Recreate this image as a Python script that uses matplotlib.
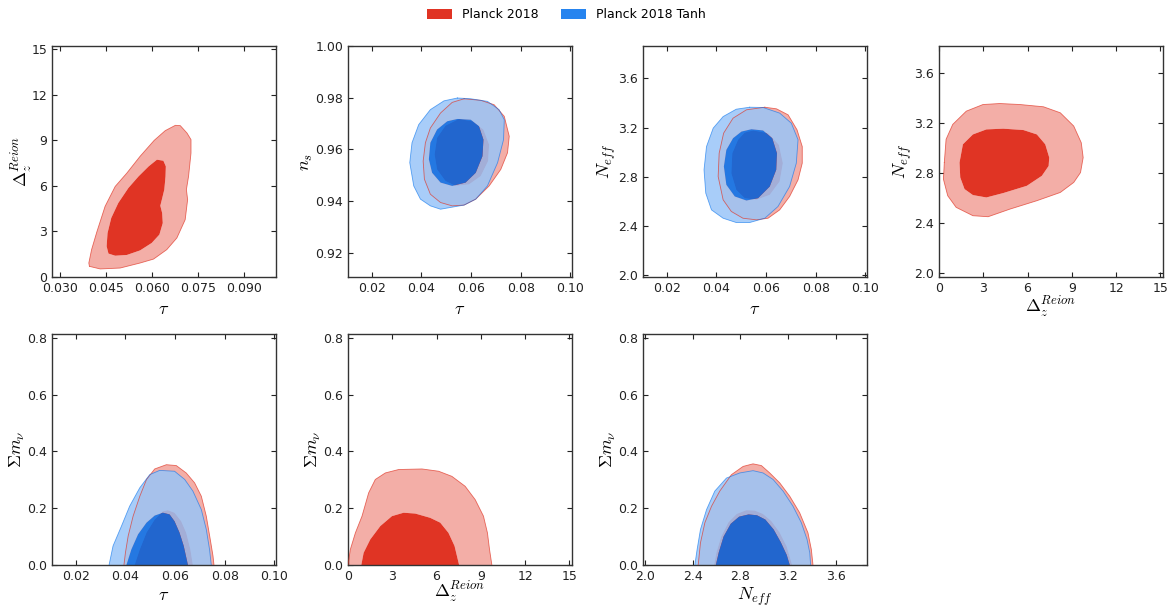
"""Reionisation-model triangle panels: Planck 2018 vs Planck 2018 Tanh (68/95% contours)."""
import matplotlib
matplotlib.use("Agg")
import matplotlib.pyplot as plt
import numpy as np
from matplotlib.patches import PathPatch, Patch
from matplotlib.path import Path

plt.rcParams["mathtext.fontset"] = "cm"
plt.rcParams["font.family"] = ["DejaVu Sans"]

# ── contour outlines, (x, y) in data units ──────────────────────────────────
# panel 1: tau vs Delta_z  (Planck 2018 only)
tau_dz_red_95 = [(0.0395, 0.70), (0.0430, 0.53), (0.0495, 0.59), (0.0560, 0.92), (0.0604, 1.18),
                 (0.0647, 1.80), (0.0680, 2.57), (0.0707, 3.77), (0.0715, 5.09), (0.0711, 5.75),
                 (0.0718, 6.62), (0.0726, 8.16), (0.0726, 9.04), (0.0713, 9.47), (0.0691, 9.96),
                 (0.0675, 9.98), (0.0642, 9.63), (0.0606, 8.99), (0.0560, 7.94), (0.0517, 6.84),
                 (0.0479, 5.96), (0.0446, 4.65), (0.0419, 2.96), (0.0402, 1.80), (0.0393, 0.92)]
tau_dz_red_68 = [(0.0636, 7.65), (0.0615, 7.72), (0.0588, 7.28), (0.0555, 6.62), (0.0522, 5.86),
                 (0.0489, 4.87), (0.0466, 3.88), (0.0454, 2.89), (0.0451, 2.02), (0.0457, 1.54),
                 (0.0479, 1.40), (0.0517, 1.45), (0.0560, 1.75), (0.0598, 2.24), (0.0623, 2.79),
                 (0.0634, 3.55), (0.0632, 4.21), (0.0626, 4.69), (0.0631, 5.09), (0.0639, 5.75),
                 (0.0643, 6.62), (0.0644, 7.28)]

# panel 2: tau vs n_s
tau_ns_red_95 = [(0.0572, 0.9796), (0.0639, 0.9790), (0.0693, 0.9773), (0.0734, 0.9728),
                 (0.0754, 0.9651), (0.0747, 0.9587), (0.0720, 0.9523), (0.0673, 0.9459),
                 (0.0619, 0.9408), (0.0572, 0.9385), (0.0524, 0.9382), (0.0477, 0.9395),
                 (0.0436, 0.9427), (0.0412, 0.9485), (0.0407, 0.9555), (0.0416, 0.9626),
                 (0.0436, 0.9683), (0.0477, 0.9741), (0.0524, 0.9782)]
tau_ns_red_68 = [(0.0551, 0.9718), (0.0605, 0.9709), (0.0650, 0.9677), (0.0673, 0.9619),
                 (0.0669, 0.9555), (0.0639, 0.9497), (0.0592, 0.9465), (0.0538, 0.9459),
                 (0.0497, 0.9478), (0.0463, 0.9523), (0.0453, 0.9581), (0.0463, 0.9645),
                 (0.0497, 0.9692)]
tau_ns_tanh_95 = [(0.0545, 0.9799), (0.0599, 0.9796), (0.0666, 0.9786), (0.0713, 0.9754),
                  (0.0734, 0.9715), (0.0731, 0.9638), (0.0707, 0.9549), (0.0666, 0.9459),
                  (0.0619, 0.9408), (0.0572, 0.9385), (0.0518, 0.9376), (0.0477, 0.9369),
                  (0.0436, 0.9382), (0.0396, 0.9408), (0.0369, 0.9459), (0.0353, 0.9549),
                  (0.0362, 0.9626), (0.0389, 0.9696), (0.0436, 0.9754), (0.0491, 0.9788)]
tau_ns_tanh_68 = [(0.0545, 0.9718), (0.0599, 0.9715), (0.0632, 0.9690), (0.0650, 0.9638),
                  (0.0646, 0.9574), (0.0619, 0.9510), (0.0578, 0.9472), (0.0524, 0.9459),
                  (0.0477, 0.9472), (0.0443, 0.9510), (0.0430, 0.9562), (0.0436, 0.9626),
                  (0.0463, 0.9677), (0.0504, 0.9709)]

# panel 3: tau vs N_eff
tau_neff_red_95 = [(0.0595, 3.365), (0.0642, 3.352), (0.0689, 3.303), (0.0725, 3.181),
                   (0.0746, 3.045), (0.0746, 2.910), (0.0729, 2.774), (0.0695, 2.639),
                   (0.0655, 2.530), (0.0608, 2.462), (0.0561, 2.449), (0.0507, 2.462),
                   (0.0460, 2.517), (0.0427, 2.612), (0.0407, 2.801), (0.0411, 2.991),
                   (0.0429, 3.154), (0.0467, 3.276), (0.0521, 3.344)]
tau_neff_red_68 = [(0.0548, 3.176), (0.0608, 3.154), (0.0652, 3.059), (0.0668, 2.910),
                   (0.0655, 2.761), (0.0615, 2.652), (0.0561, 2.612), (0.0514, 2.625),
                   (0.0480, 2.693), (0.0460, 2.828), (0.0464, 2.991), (0.0487, 3.100),
                   (0.0514, 3.159)]
tau_neff_tanh_95 = [(0.0534, 3.365), (0.0588, 3.363), (0.0655, 3.317), (0.0702, 3.235),
                    (0.0729, 3.100), (0.0722, 2.910), (0.0695, 2.720), (0.0648, 2.557),
                    (0.0595, 2.462), (0.0534, 2.427), (0.0480, 2.427), (0.0427, 2.462),
                    (0.0380, 2.530), (0.0357, 2.666), (0.0350, 2.856), (0.0360, 3.045),
                    (0.0387, 3.195), (0.0427, 3.289), (0.0480, 3.349)]
tau_neff_tanh_68 = [(0.0541, 3.186), (0.0588, 3.176), (0.0625, 3.113), (0.0644, 2.991),
                    (0.0641, 2.856), (0.0615, 2.720), (0.0568, 2.625), (0.0521, 2.606),
                    (0.0474, 2.639), (0.0440, 2.734), (0.0430, 2.883), (0.0440, 3.018),
                    (0.0467, 3.113), (0.0501, 3.167)]

# panel 4: Delta_z vs N_eff  (Planck 2018 only)
dz_neff_red_95 = [(0.36, 2.885), (0.48, 3.071), (0.93, 3.190), (1.85, 3.296), (2.98, 3.349),
                  (4.12, 3.357), (5.49, 3.349), (7.08, 3.331), (8.22, 3.283), (9.13, 3.177),
                  (9.64, 3.044), (9.77, 2.925), (9.59, 2.805), (9.13, 2.726), (8.22, 2.646),
                  (6.63, 2.580), (4.81, 2.513), (3.33, 2.452), (2.30, 2.460), (1.16, 2.527),
                  (0.59, 2.620), (0.30, 2.752)]
dz_neff_red_68 = [(1.39, 2.885), (1.62, 3.031), (2.30, 3.110), (3.21, 3.150), (4.35, 3.156),
                  (5.72, 3.145), (6.63, 3.110), (7.20, 3.031), (7.47, 2.925), (7.43, 2.858),
                  (6.97, 2.779), (5.95, 2.699), (4.35, 2.641), (3.21, 2.606), (2.30, 2.625),
                  (1.73, 2.673), (1.44, 2.766)]

# panel 5: tau vs sum m_nu
tau_mnu_red_95 = [(0.0394, 0.0), (0.0400, 0.043), (0.0411, 0.102), (0.0431, 0.172), (0.0458, 0.242),
                  (0.0485, 0.301), (0.0518, 0.338), (0.0565, 0.353), (0.0605, 0.350), (0.0645, 0.324),
                  (0.0679, 0.289), (0.0706, 0.242), (0.0726, 0.172), (0.0742, 0.090), (0.0753, 0.032),
                  (0.0757, 0.0)]
tau_mnu_red_68 = [(0.0437, 0.0), (0.0458, 0.055), (0.0485, 0.114), (0.0518, 0.160), (0.0551, 0.189),
                  (0.0571, 0.193), (0.0598, 0.184), (0.0625, 0.154), (0.0645, 0.114), (0.0662, 0.055),
                  (0.0672, 0.0)]
tau_mnu_tanh_95 = [(0.0334, 0.0), (0.0350, 0.067), (0.0384, 0.137), (0.0417, 0.207), (0.0458, 0.272),
                   (0.0498, 0.318), (0.0538, 0.333), (0.0598, 0.330), (0.0639, 0.301), (0.0672, 0.260),
                   (0.0706, 0.195), (0.0726, 0.125), (0.0739, 0.055), (0.0746, 0.0)]
tau_mnu_tanh_68 = [(0.0404, 0.0), (0.0424, 0.055), (0.0451, 0.108), (0.0485, 0.149), (0.0518, 0.174),
                   (0.0551, 0.184), (0.0578, 0.178), (0.0598, 0.154), (0.0618, 0.114), (0.0635, 0.067),
                   (0.0652, 0.0)]

# panel 6: Delta_z vs sum m_nu  (Planck 2018 only)
dz_mnu_red_95 = [(0.0, 0.0), (0.16, 0.055), (0.50, 0.113), (0.95, 0.172), (1.40, 0.254), (1.85, 0.301),
                 (2.53, 0.324), (3.43, 0.336), (5.01, 0.338), (6.14, 0.330), (7.04, 0.312),
                 (7.94, 0.277), (8.62, 0.230), (9.18, 0.172), (9.45, 0.113), (9.59, 0.055),
                 (9.75, 0.0)]
dz_mnu_red_68 = [(0.90, 0.0), (1.06, 0.043), (1.51, 0.090), (2.19, 0.137), (2.98, 0.172),
                 (3.77, 0.184), (4.56, 0.181), (5.57, 0.166), (6.25, 0.149), (6.81, 0.113),
                 (7.22, 0.067), (7.53, 0.0)]

# panel 7: N_eff vs sum m_nu
neff_mnu_red_95 = [(2.447, 0.0), (2.466, 0.078), (2.503, 0.149), (2.559, 0.207), (2.628, 0.260),
                   (2.726, 0.318), (2.824, 0.347), (2.907, 0.356), (2.977, 0.350), (3.047, 0.324),
                   (3.131, 0.289), (3.215, 0.242), (3.298, 0.184), (3.368, 0.113), (3.396, 0.055),
                   (3.410, 0.0)]
neff_mnu_red_68 = [(2.580, 0.0), (2.600, 0.045), (2.640, 0.100), (2.700, 0.150), (2.770, 0.180),
                   (2.850, 0.193), (2.920, 0.192), (2.990, 0.180), (3.060, 0.155), (3.130, 0.115),
                   (3.190, 0.065), (3.235, 0.0)]
neff_mnu_tanh_95 = [(2.419, 0.0), (2.438, 0.055), (2.466, 0.125), (2.517, 0.195), (2.586, 0.260),
                    (2.684, 0.306), (2.796, 0.324), (2.907, 0.332), (2.991, 0.324), (3.075, 0.301),
                    (3.159, 0.260), (3.242, 0.207), (3.312, 0.149), (3.360, 0.090), (3.383, 0.043),
                    (3.390, 0.0)]
neff_mnu_tanh_68 = [(2.595, 0.0), (2.620, 0.045), (2.660, 0.100), (2.720, 0.145), (2.790, 0.170),
                    (2.870, 0.178), (2.940, 0.175), (3.010, 0.160), (3.080, 0.125), (3.140, 0.080),
                    (3.190, 0.035), (3.215, 0.0)]

LABELS = ["Planck 2018", "Planck 2018 Tanh"]
RED = "#E03424"
BLUE = "#006FED"
PALE = 0.6           # getdist-style pale factor for the 95% band
ADD_ALPHA = 0.85     # alpha of the overlaid (second) chain

TAU, NS, NEFF = r"$\tau$", r"$n_s$", r"$N_{eff}$"
MNU, DZ = r"$\Sigma m_\nu$", r"$\Delta_z^{Reion}$"

# (col, row, xlabel, ylabel, xlim, ylim, xticks, yticks, xfmt, yfmt, red95, red68, tanh95, tanh68, open_bottom)
PANELS = [
    (0, 0, TAU, DZ, (0.0273, 0.1003), (0, 15.2), np.arange(0.030, 0.091, 0.015), np.arange(0, 16, 3),
     "{:.3f}", "{:.0f}", tau_dz_red_95, tau_dz_red_68, None, None, False),
    (1, 0, TAU, NS, (0.0104, 0.1007), (0.9107, 1.0), np.arange(0.02, 0.101, 0.02), np.arange(0.92, 1.001, 0.02),
     "{:.2f}", "{:.2f}", tau_ns_red_95, tau_ns_red_68, tau_ns_tanh_95, tau_ns_tanh_68, False),
    (2, 0, TAU, NEFF, (0.0104, 0.1007), (1.984, 3.863), np.arange(0.02, 0.101, 0.02), np.arange(2.0, 3.61, 0.4),
     "{:.2f}", "{:.1f}", tau_neff_red_95, tau_neff_red_68, tau_neff_tanh_95, tau_neff_tanh_68, False),
    (3, 0, DZ, NEFF, (0, 15.18), (1.97, 3.817), np.arange(0, 16, 3), np.arange(2.0, 3.61, 0.4),
     "{:.0f}", "{:.1f}", dz_neff_red_95, dz_neff_red_68, None, None, False),
    (0, 1, TAU, MNU, (0.0104, 0.1007), (0, 0.813), np.arange(0.02, 0.101, 0.02), np.arange(0, 0.81, 0.2),
     "{:.2f}", "{:.1f}", tau_mnu_red_95, tau_mnu_red_68, tau_mnu_tanh_95, tau_mnu_tanh_68, True),
    (1, 1, DZ, MNU, (0, 15.18), (0, 0.813), np.arange(0, 16, 3), np.arange(0, 0.81, 0.2),
     "{:.0f}", "{:.1f}", dz_mnu_red_95, dz_mnu_red_68, None, None, True),
    (2, 1, NEFF, MNU, (1.984, 3.863), (0, 0.813), np.arange(2.0, 3.61, 0.4), np.arange(0, 0.81, 0.2),
     "{:.1f}", "{:.1f}", neff_mnu_red_95, neff_mnu_red_68, neff_mnu_tanh_95, neff_mnu_tanh_68, True),
]

W, H = 1171, 605
COL_LEFT = [52, 348, 643, 939]
ROW_TOP = [46, 334]
AX_W, AX_H = 224, 231


def _pale(color):
    rgb = np.array(matplotlib.colors.to_rgb(color))
    return tuple(rgb * (1 - PALE) + PALE)


def _signed_area(pts):
    a = np.asarray(pts)
    x, y = a[:, 0], a[:, 1]
    return 0.5 * np.sum(x * np.roll(y, -1) - np.roll(x, -1) * y)


def _ring_path(outer, inner):
    """Outer outline with the inner one punched out (opposite winding)."""
    inner = list(inner)
    if np.sign(_signed_area(outer)) == np.sign(_signed_area(inner)):
        inner = inner[::-1]
    verts, codes = [], []
    for poly in (outer, inner):
        verts += list(poly) + [poly[0]]
        codes += [Path.MOVETO] + [Path.LINETO] * (len(poly) - 1) + [Path.CLOSEPOLY]
    return Path(verts, codes)


def _draw_chain(ax, c95, c68, color, alpha, open_bottom):
    ring = PathPatch(_ring_path(c95, c68), facecolor=_pale(color), edgecolor="none",
                     alpha=alpha, zorder=2)
    core = PathPatch(Path(list(c68) + [c68[0]], [Path.MOVETO] + [Path.LINETO] * (len(c68) - 1)
                          + [Path.CLOSEPOLY]), facecolor=color, edgecolor="none",
                     alpha=alpha, zorder=2)
    ax.add_patch(ring)
    ax.add_patch(core)
    pts = list(c95) if open_bottom else list(c95) + [c95[0]]
    xs, ys = zip(*pts)
    ax.plot(xs, ys, color=color, lw=0.6, alpha=0.7 * alpha, zorder=3,
            solid_joinstyle="round")


fig = plt.figure(figsize=(W / 100, H / 100), dpi=100)

for (col, row, xl, yl, xlim, ylim, xt, yt, xf, yf,
     r95, r68, t95, t68, open_bottom) in PANELS:
    left, top = COL_LEFT[col], ROW_TOP[row]
    ax = fig.add_axes([left / W, 1 - (top + AX_H) / H, AX_W / W, AX_H / H])

    _draw_chain(ax, r95, r68, RED, 1.0, open_bottom)
    if t95 is not None:
        _draw_chain(ax, t95, t68, BLUE, ADD_ALPHA, open_bottom)

    ax.set_xlim(*xlim)
    ax.set_ylim(*ylim)
    ax.set_xticks(xt)
    ax.set_xticklabels([xf.format(v) for v in xt])
    ax.set_yticks(yt)
    ax.set_yticklabels([yf.format(v) for v in yt])
    ax.tick_params(direction="in", top=True, right=True, length=3.5, width=0.8,
                   labelsize=9, colors="#222222")
    for s in ax.spines.values():
        s.set_linewidth(1.0)
        s.set_color("#333333")
    # the Delta label carries a superscript, so pull it a little closer to the axis;
    # bottom row sits tight against the figure edge
    pad = (0 if xl == DZ else 4) - (2 if row == 1 else 0)
    ax.set_xlabel(xl, fontsize=13, labelpad=pad)
    ax.set_ylabel(yl, fontsize=13, labelpad=-3 if yl == DZ else 0)

handles = [Patch(facecolor=RED, edgecolor="none"),
           Patch(facecolor=BLUE, edgecolor="none", alpha=ADD_ALPHA)]
fig.legend(handles, LABELS, loc="center", bbox_to_anchor=(566 / W, 1 - 15 / H), ncol=2,
           frameon=False, fontsize=9, handlelength=2.0, handleheight=0.8,
           columnspacing=1.8, handletextpad=0.8)

fig.savefig("out.png", dpi=100)
